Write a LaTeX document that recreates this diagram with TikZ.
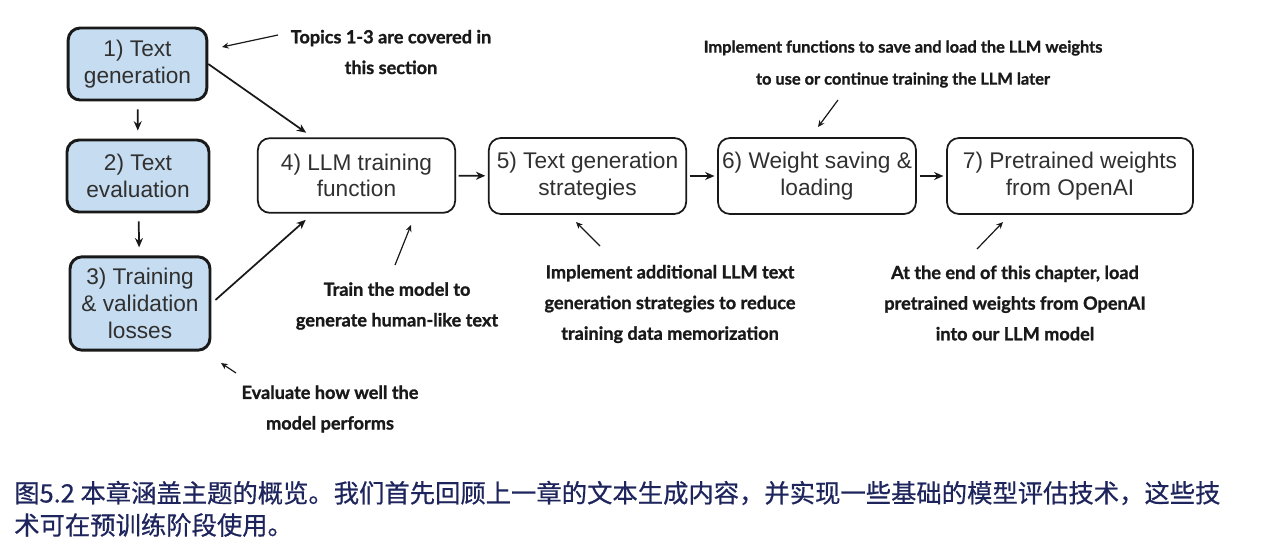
\documentclass[tikz,border=0pt]{standalone}
\usepackage{fontspec}
\setmainfont{Liberation Sans}
\newfontfamily\annot{Lato}[BoldFeatures={FakeBold=1.2}]
\newfontfamily\cjk{Noto Sans CJK SC}[FakeBold=0.6]
\usetikzlibrary{arrows.meta,calc}
\definecolor{boxblue}{RGB}{198,220,240}
\definecolor{capblue}{RGB}{30,36,92}
\definecolor{ink}{RGB}{25,25,25}
\begin{document}
\begin{tikzpicture}[x=0.75pt,y=-0.75pt,
  topic/.style={draw=ink,rounded corners=9pt,align=center,inner sep=0pt,
    font=\fontsize{17}{20}\selectfont,text=ink!90},
  done/.style={topic,fill=boxblue,line width=2.2pt},
  todo/.style={topic,line width=1.3pt},
  arr/.style={draw=ink,line width=1.3pt,-{Stealth[length=7pt,width=6pt]}},
  thin/.style={draw=ink,line width=0.9pt,-{Stealth[length=5pt,width=4.5pt]}},
  note/.style={align=center,font=\annot\bfseries\fontsize{13.6}{23}\selectfont,text=ink,inner sep=0pt},
  smallnote/.style={note,font=\annot\bfseries\fontsize{12.3}{24}\selectfont},
  caption/.style={align=left,anchor=west,font=\cjk\fontsize{19}{25}\selectfont,text=capblue,inner sep=0pt}]
\useasboundingbox (0,0) rectangle (1271,558);
% topic boxes
\node[done,minimum width=104pt,minimum height=54pt] (b1) at (137.5,64) {1) Text\\generation};
\node[done,minimum width=106.5pt,minimum height=54pt] (b2) at (138,176) {2) Text\\evaluation};
\node[done,minimum width=105pt,minimum height=70pt] (b3) at (140,303.5) {3) Training\\\& validation\\losses};
\node[todo,minimum width=148pt,minimum height=56pt] (b4) at (356.5,175.5) {4) LLM training\\function};
\node[todo,minimum width=148pt,minimum height=57pt] (b5) at (587.5,176) {5) Text generation\\strategies};
\node[todo,minimum width=148.5pt,minimum height=57pt] (b6) at (817,176) {6) Weight saving \&\\loading};
\node[todo,minimum width=184.5pt,minimum height=57pt] (b7) at (1070,176) {7) Pretrained weights\\from OpenAI};
% flow arrows
\draw[arr,shorten <=6pt,shorten >=6pt] (b1) -- (b2);
\draw[arr,shorten <=6pt,shorten >=6pt] (b2) -- (b3);
\coordinate (b4in1) at ($(b4.north west)!0.28!(b4.north east)$);
\coordinate (b4in3) at ($(b4.south west)!0.28!(b4.south east)$);
\draw[arr,shorten >=6pt] (b1.east) -- (b4in1);
\draw[arr,shorten <=4pt,shorten >=7pt] (b3.east) -- (b4in3);
\draw[arr,shorten <=2pt,shorten >=2pt] (b4) -- (b5);
\draw[arr,shorten <=2pt,shorten >=2pt] (b5) -- (b6);
\draw[arr,shorten <=2pt,shorten >=2pt] (b6) -- (b7);
% notes
\node[note] (n1) at (391,52) {Topics 1-3 are covered in\\this section};
\node[smallnote] (n2) at (903,64) {Implement functions to save and load the LLM weights\\to use or continue training the LLM later};
\node[note] (n3) at (397,306) {Train the model to\\generate human-like text};
\node[note] (n4) at (670,304) {Implement additional LLM text\\generation strategies to reduce\\training data memorization};
\node[note] (n5) at (1015,303) {At the end of this chapter, load\\pretrained weights from OpenAI\\into our LLM model};
\node[note] (n6) at (330,409) {Evaluate how well the\\model performs};
% note pointers
\coordinate (p1) at (278,35); \coordinate (q1) at (222,47);
\coordinate (p2) at (838,100); \coordinate (q2) at (818,127);
\coordinate (p3) at (395,265); \coordinate (q3) at (411,225);
\coordinate (p4) at (600,246); \coordinate (q4) at (576,222);
\coordinate (p5) at (977,249); \coordinate (q5) at (1003,222);
\coordinate (p6) at (236,373); \coordinate (q6) at (221,363);
\draw[thin] (p1) -- (q1);
\draw[thin] (p2) -- (q2);
\draw[thin] (p3) -- (q3);
\draw[thin] (p4) -- (q4);
\draw[thin] (p5) -- (q5);
\draw[thin] (p6) -- (q6);
% caption
\node[caption] (c1) at (14,493) {图5.2 本章涵盖主题的概览。我们首先回顾上一章的文本生成内容，并实现一些基础的模型评估技术，这些技};
\node[caption] (c2) at (14,525) {术可在预训练阶段使用。};
\end{tikzpicture}
\end{document}
